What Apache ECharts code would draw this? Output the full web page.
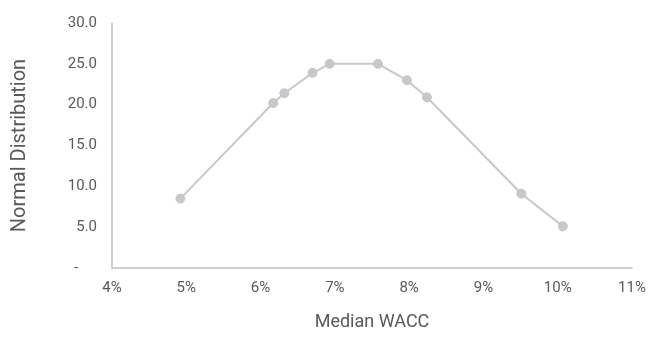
<!DOCTYPE html>
<html>
<head>
<meta charset="utf-8">
<script src="https://cdn.jsdelivr.net/npm/echarts@6/dist/echarts.min.js"></script>
<style>
  html, body { margin: 0; padding: 0; background: #fff; }
  #chart { width: 652px; height: 342px; }
</style>
</head>
<body>
<div id="chart"></div>
<script>
// Median WACC (%) and corresponding normal distribution density
const waccPct = [4.92, 6.17, 6.32, 6.70, 6.93, 7.58, 7.97, 8.24, 9.51, 10.07];
const density = [8.5, 20.2, 21.4, 23.9, 25.0, 25.0, 23.0, 20.9, 9.1, 5.1];
const xTicks = { min: 4, max: 11, step: 1 };
const yTicks = { min: 0, max: 30, step: 5 };

const points = waccPct.map((w, i) => [w, density[i]]);
const font = 'Roboto, "Open Sans", sans-serif';

const chart = echarts.init(document.getElementById('chart'), null, { renderer: 'canvas' });
chart.setOption({
  animation: false,
  grid: { left: 112, right: 20, top: 23, bottom: 74, containLabel: false },
  xAxis: {
    type: 'value',
    min: xTicks.min, max: xTicks.max, interval: xTicks.step,
    name: 'Median WACC',
    nameLocation: 'middle',
    nameGap: 45,
    nameTextStyle: { fontFamily: font, fontSize: 18, color: '#595959' },
    axisLine: { show: true, lineStyle: { color: '#bfbfbf', width: 1.5 } },
    axisTick: { show: false },
    splitLine: { show: false },
    axisLabel: {
      margin: 13,
      fontFamily: font, fontSize: 15, color: '#595959',
      formatter: v => v + '%'
    }
  },
  yAxis: {
    type: 'value',
    min: yTicks.min, max: yTicks.max, interval: yTicks.step,
    name: 'Normal Distribution',
    nameLocation: 'middle',
    nameGap: 82,
    nameTextStyle: { fontFamily: font, fontSize: 20, color: '#595959' },
    axisLine: { show: true, lineStyle: { color: '#bfbfbf', width: 1.5 } },
    axisTick: { show: false },
    splitLine: { show: false },
    axisLabel: {
      margin: 15,
      fontFamily: font, fontSize: 15, color: '#595959',
      formatter: v => v === 0 ? '-     ' : v.toFixed(1)
    }
  },
  series: [{
    type: 'line',
    data: points,
    symbol: 'circle',
    symbolSize: 9,
    lineStyle: { color: '#c8c8c8', width: 2 },
    itemStyle: { color: '#c8c8c8', borderColor: '#b9bfcc', borderWidth: 0.8 }
  }]
});
</script>
</body>
</html>
